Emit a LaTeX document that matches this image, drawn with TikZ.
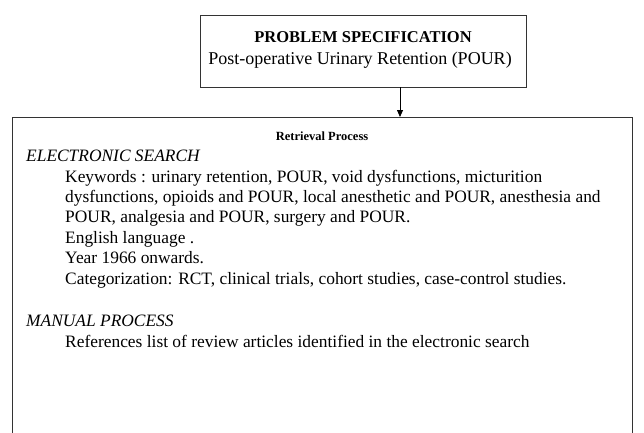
\documentclass[tikz,border=0pt]{standalone}
\usepackage{fontspec}
\setmainfont{Liberation Serif}
\usetikzlibrary{arrows.meta}
\begin{document}
\begin{tikzpicture}[x=1pt,y=-1pt,
  frame/.style={draw=black!80,line width=1.3pt},
  body/.style={anchor=base west,inner sep=0pt,font=\fontsize{17.4}{20}\selectfont},
  head/.style={anchor=base west,inner sep=0pt,font=\fontsize{17.4}{20}\selectfont\itshape}]
\useasboundingbox[fill=white] (0,0) rectangle (644,432);
\node[frame,minimum width=326pt,minimum height=72pt,anchor=north west,inner sep=0pt] (spec) at (200,15) {};
\node[inner sep=0pt,font=\fontsize{16.5}{19}\selectfont\bfseries] (spect) at (363,37) {PROBLEM SPECIFICATION};
\node[inner sep=0pt,font=\fontsize{18}{19}\selectfont] (specs) at (360,60) {Post-operative Urinary Retention (POUR)};
\node[frame,minimum width=620pt,minimum height=330pt,anchor=north west,inner sep=0pt] (ret) at (12,117) {};
\coordinate (arr) at (400,87);
\draw[line width=0.8pt,-{Triangle[width=6pt,length=7pt]}] (arr) -- (arr |- ret.north);
\node[inner sep=0pt,font=\fontsize{12.5}{14}\selectfont\bfseries] (rett) at (322,136) {Retrieval Process};
\node[head] (h1) at (26,161) {ELECTRONIC SEARCH};
\node[body] (l1) at (65,182) {Keywords : urinary retention, POUR, void dysfunctions, micturition};
\node[body] (l2) at (65,202) {dysfunctions, opioids and POUR, local anesthetic and POUR, anesthesia and};
\node[body] (l3) at (65,222) {POUR, analgesia and POUR, surgery and POUR.};
\node[body] (l4) at (65,243) {English language .};
\node[body] (l5) at (65,263) {Year 1966 onwards.};
\node[body] (l6) at (65,284) {Categorization: RCT, clinical trials, cohort studies, case-control studies.};
\node[head] (h2) at (26,326) {MANUAL PROCESS};
\node[body] (l7) at (65,347) {References list of review articles identified in the electronic search};
\end{tikzpicture}
\end{document}
